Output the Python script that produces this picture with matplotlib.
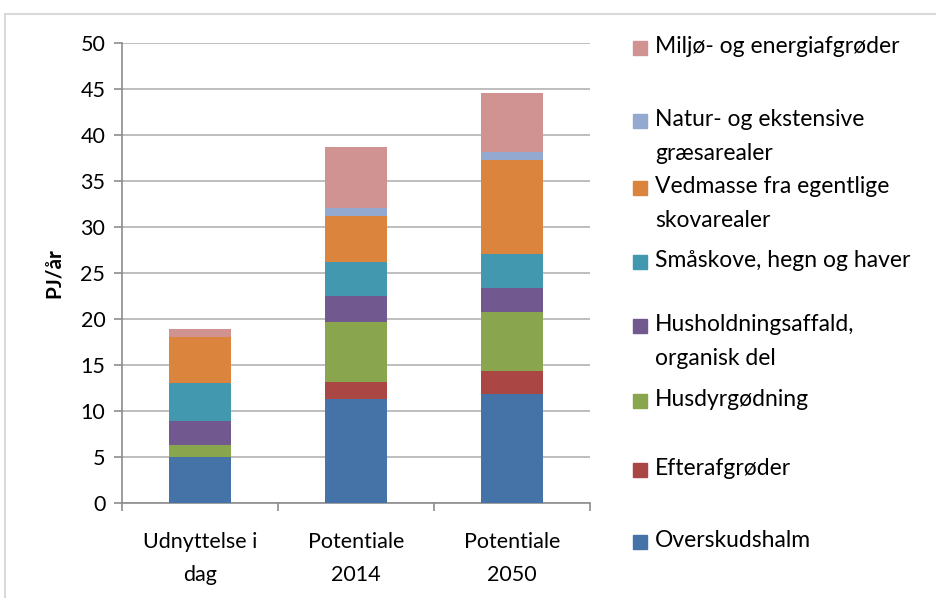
import matplotlib.pyplot as plt
from matplotlib.patches import Rectangle
import numpy as np

plt.rcParams['font.family'] = ['Lato', 'DejaVu Sans']

kategorier = ["Udnyttelse i\ndag", "Potentiale\n2014", "Potentiale\n2050"]

serier = [
    "Overskudshalm",
    "Efterafgrøder",
    "Husdyrgødning",
    "Husholdningsaffald,\norganisk del",
    "Småskove, hegn og haver",
    "Vedmasse fra egentlige\nskovarealer",
    "Natur- og ekstensive\ngræsarealer",
    "Miljø- og energiafgrøder",
]

overskudshalm = [5.0, 11.3, 11.8]
efterafgroeder = [0.0, 1.9, 2.5]
husdyrgoedning = [1.3, 6.5, 6.5]
husholdning = [2.6, 2.8, 2.6]
smaaskove = [4.1, 3.7, 3.7]
vedmasse = [5.0, 5.0, 10.2]
natur = [0.0, 0.9, 0.9]
miljoe = [0.9, 6.6, 6.4]

data = [overskudshalm, efterafgroeder, husdyrgoedning, husholdning,
        smaaskove, vedmasse, natur, miljoe]

farver = ['#4572A7', '#AA4643', '#89A54E', '#71588F',
          '#4198AF', '#DB843D', '#93A9CF', '#D19392']

fig = plt.figure(figsize=(9.36, 5.98), dpi=100)
ax = fig.add_axes([122 / 936, 1 - 503 / 598, 468 / 936, 460 / 598])

x = np.arange(len(kategorier))
bund = np.zeros(len(kategorier))
for vaerdier, farve in zip(data, farver):
    ax.bar(x, vaerdier, width=0.4, bottom=bund, color=farve, zorder=3)
    bund += np.array(vaerdier)

ax.set_xlim(-0.5, 2.5)
ax.set_ylim(0, 50)
ax.set_yticks(range(0, 51, 5))
ax.yaxis.grid(True, color='#b3b3b3', linewidth=1.2, zorder=0)
ax.set_xticks(x)
ax.set_xticklabels(kategorier, fontsize=15.5, linespacing=1.8)
ax.set_xticks([-0.5, 0.5, 1.5, 2.5], minor=True)
ax.tick_params(axis='x', which='major', length=0, pad=21)
ax.tick_params(axis='x', which='minor', length=6, color='#8c8c8c', width=1.2)
ax.tick_params(axis='y', labelsize=15.5, length=6, color='#8c8c8c', width=1.2, pad=6)
for s in ['top', 'right']:
    ax.spines[s].set_visible(False)
for s in ['left', 'bottom']:
    ax.spines[s].set_color('#8c8c8c')
    ax.spines[s].set_linewidth(1.2)
ax.set_ylabel("PJ/år", fontsize=15, fontweight='bold', labelpad=12)

# legend, top entry first, swatch aligned with first text line
legend_y = [48, 121, 188, 262, 326, 401, 470, 542]
for navn, farve, yy in zip(serier[::-1], farver[::-1], legend_y):
    fig.patches.append(Rectangle((633 / 936, 1 - (yy + 7) / 598), 14 / 936, 14 / 598,
                                 transform=fig.transFigure, color=farve))
    fig.text(655 / 936, 1 - (yy - 12) / 598, navn, fontsize=16.5, va='top',
             ha='left', linespacing=1.75)

fig.patches.append(Rectangle((5 / 936, -0.02), 1.0, 1 - 14 / 598 + 0.02,
                             transform=fig.transFigure, fill=False,
                             edgecolor='#d9d9d9', linewidth=1.5))

fig.savefig("out.png", dpi=100)
